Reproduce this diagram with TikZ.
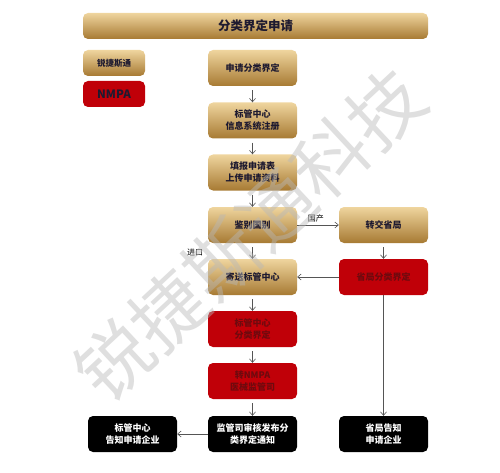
\documentclass[tikz,border=0pt]{standalone}
\usepackage{fontspec}
\setmainfont{Noto Sans CJK SC}
\usetikzlibrary{arrows.meta}
\definecolor{goldT}{HTML}{EFD59E}
\definecolor{goldB}{HTML}{A77A33}
\definecolor{boxred}{HTML}{C00008}
\definecolor{redtxt}{HTML}{6E0A0E}
\definecolor{navy}{HTML}{1E1A30}
\definecolor{arr}{HTML}{555555}
\definecolor{wmgray}{HTML}{B8B8B8}
\tikzset{
  base/.style={rounded corners=5pt, minimum width=89pt, minimum height=36pt, align=center, inner sep=1pt, font=\bfseries\fontsize{9}{12}\selectfont},
  gold/.style={base, top color=goldT, bottom color=goldB, text=navy},
  redbox/.style={base, fill=boxred, text=redtxt},
  blackbox/.style={base, fill=black, text=white},
  link/.style={draw=arr, line width=0.6pt, -{Straight Barb[length=3.5pt,width=6pt]}},
  lbl/.style={font=\fontsize{8}{10}\selectfont, text=black, inner sep=1pt}
}
\begin{document}
\begin{tikzpicture}[x=1pt,y=1pt]
\useasboundingbox (0,0) rectangle (500,472);
% title
\node[gold, minimum width=345pt, minimum height=26pt, font=\bfseries\fontsize{12.5}{14}\selectfont] (title) at (255.5,446) {分类界定申请};
% legend
\node[gold, minimum width=62pt, minimum height=26pt, font=\bfseries\fontsize{8.5}{10}\selectfont] (leg1) at (114,409) {锐捷斯通};
\node[base, fill=boxred, text=navy, minimum width=62pt, minimum height=26pt, font=\bfseries\fontsize{11.5}{12}\selectfont] (leg2) at (114,378) {NMPA};
% main column
\node[gold] (b1) at (252.5,404) {申请分类界定};
\node[gold] (b2) at (252.5,351.5) {标管中心\\信息系统注册};
\node[gold] (b3) at (252.5,299.5) {填报申请表\\上传申请资料};
\node[gold] (b4) at (252.5,247) {鉴别国别};
\node[gold] (b5) at (252.5,195) {寄送标管中心};
\node[redbox] (b6) at (252.5,143) {标管中心\\分类界定};
\node[redbox] (b7) at (252.5,91) {转NMPA\\医械监管司};
\node[blackbox] (b8) at (252.5,38) {监管司审核发布分\\类界定通知};
% right column
\node[gold] (r1) at (383.5,247) {转交省局};
\node[redbox] (r2) at (383.5,195) {省局分类界定};
\node[blackbox] (r3) at (383.5,38) {省局告知\\申请企业};
% left
\node[blackbox] (l1) at (132.5,38) {标管中心\\告知申请企业};
% arrows
\draw[link] ([yshift=-4pt]b1.south) -- (b2.north);
\draw[link] ([yshift=-4pt]b2.south) -- (b3.north);
\draw[link] ([yshift=-4pt]b3.south) -- (b4.north);
\draw[link] ([yshift=-4pt]b4.south) -- (b5.north);
\draw[link] ([yshift=-4pt]b5.south) -- (b6.north);
\draw[link] ([yshift=-4pt]b6.south) -- (b7.north);
\draw[link] ([yshift=-4pt]b7.south) -- (b8.north);
\draw[link] (b4.east) -- (r1.west) node[lbl, pos=0.45, above=2pt] (gc) {国产};
\node[lbl] (jk) at (195,220) {进口};
\draw[link] ([yshift=-4pt]r1.south) -- (r2.north);
\draw[link] (r2.west) -- (b5.east);
\draw[link] (r2.south) -- (r3.north);
\draw[link] (b8.west) -- (l1.east);
% watermark
\node[text=wmgray, opacity=0.45, rotate=43, font=\fontsize{74}{76}\selectfont] (wm) at (250,237) {锐捷斯通科技};
\end{tikzpicture}
\end{document}
